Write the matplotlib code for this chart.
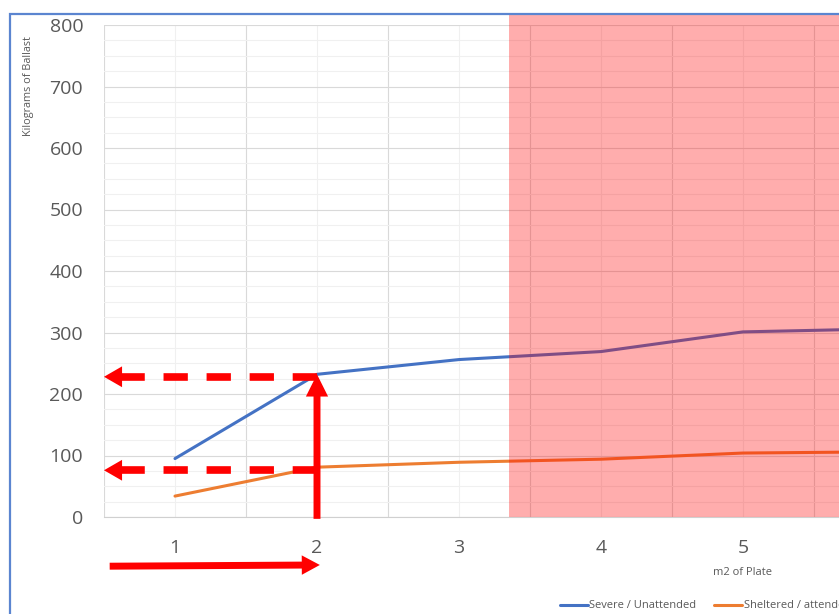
import matplotlib
matplotlib.use("Agg")
import matplotlib.pyplot as plt
from matplotlib.patches import Rectangle
from matplotlib.ticker import MultipleLocator, FixedLocator

plt.rcParams['font.family'] = ['Open Sans', 'DejaVu Sans']
plt.rcParams['lines.scale_dashes'] = False

# plate area categories and ballast needed per exposure class
plate_m2 = [1, 2, 3, 4, 5, 6, 7, 8, 9]
severe = [95, 232, 256, 269, 301, 306]
sheltered = [34, 81, 89, 94, 104, 106]
series_names = ['Severe / Unattended', 'Sheltered / attended']

# reading for 2 m2 of plate
pick_x = 2
pick_severe = 228
pick_sheltered = 76

W, H = 839, 614
fig = plt.figure(figsize=(W / 100, H / 100), dpi=100)
ax = fig.add_axes([104 / W, 97 / H, 1278 / W, 492 / H])

ax.plot(plate_m2[:len(severe)], severe, color='#4472C4', lw=2.2, label=series_names[0], solid_capstyle='round')
ax.plot(plate_m2[:len(sheltered)], sheltered, color='#ED7D31', lw=2.2, label=series_names[1], solid_capstyle='round')

ax.set_xlim(0.5, len(plate_m2) + 0.5)
ax.set_ylim(0, 800)
ax.set_xticks(plate_m2)
ax.xaxis.set_minor_locator(FixedLocator([i + 0.5 for i in range(len(plate_m2) + 1)]))
ax.yaxis.set_major_locator(MultipleLocator(100))
ax.yaxis.set_minor_locator(MultipleLocator(25))

ax.grid(which='major', axis='y', color='#d9d9d9', lw=0.8)
ax.grid(which='minor', axis='y', color='#f0f0f0', lw=0.8)
ax.grid(which='minor', axis='x', color='#d9d9d9', lw=0.8)
ax.grid(which='major', axis='x', color='#f0f0f0', lw=0.8)
ax.set_axisbelow(True)

for s in ['top', 'right', 'left']:
    ax.spines[s].set_visible(False)
ax.spines['bottom'].set_color('#d0d0d0')
ax.tick_params(which='both', length=0, colors='#595959', labelsize=14)
ax.tick_params(axis='y', pad=15)
ax.tick_params(axis='x', pad=16)

# category labels that fall past the right edge are not shown
for v, lbl in zip(plate_m2, ax.get_xticklabels()):
    if ax.transData.transform((v, 0))[0] > W - 10:
        lbl.set_visible(False)

ax.set_xlabel('m2 of Plate', fontsize=8, color='#595959', labelpad=7)
fig.text(29 / W, 1 - 86 / H, 'Kilograms of Ballast', rotation=90, fontsize=7.8,
         color='#595959', ha='center', va='center')

# red arrows: read the ballast off for 2 m2
red = '#FF0000'
for yv in (pick_severe, pick_sheltered):
    ax.plot([pick_x, 0.63], [yv, yv], color=red, lw=5.5, dashes=(17.5, 13.5), solid_capstyle='butt')
    ax.annotate('', xy=(0.5, yv), xytext=(0.63, yv),
                arrowprops=dict(arrowstyle='simple,head_length=13,head_width=15,tail_width=4',
                                mutation_scale=1, color=red, lw=0, shrinkA=0, shrinkB=0))
ax.annotate('', xy=(pick_x, severe[1]), xytext=(pick_x, -3),
            arrowprops=dict(arrowstyle='simple,head_length=16,head_width=16,tail_width=5',
                            mutation_scale=1, color=red, lw=0, shrinkA=0, shrinkB=0),
            annotation_clip=False)
ax.annotate('', xy=(pick_x + 0.02, -78), xytext=(0.54, -80),
            arrowprops=dict(arrowstyle='simple,head_length=13,head_width=14,tail_width=5',
                            mutation_scale=1, color=red, lw=0, shrinkA=0, shrinkB=0),
            annotation_clip=False)

# translucent red band over the larger plates
fig.patches.append(Rectangle((509 / W, 97 / H), 1.0, (517 - 14) / H,
                             transform=fig.transFigure, facecolor=red, alpha=0.32,
                             edgecolor='none', zorder=5))

# chart border
fig.patches.append(Rectangle((9.5 / W, -0.1), 1.2, 1.1 - 14 / H,
                             transform=fig.transFigure, facecolor='none',
                             edgecolor='#5B85D0', lw=1.6, zorder=6))

fig.legend(loc='center left', bbox_to_anchor=(560 / W, 1 - 606 / H), ncol=2, frameon=False,
           fontsize=8, handlelength=2.5, handletextpad=0.15, columnspacing=1.6,
           borderpad=0, borderaxespad=0, labelcolor='#595959')

fig.savefig('out.png', dpi=100)
